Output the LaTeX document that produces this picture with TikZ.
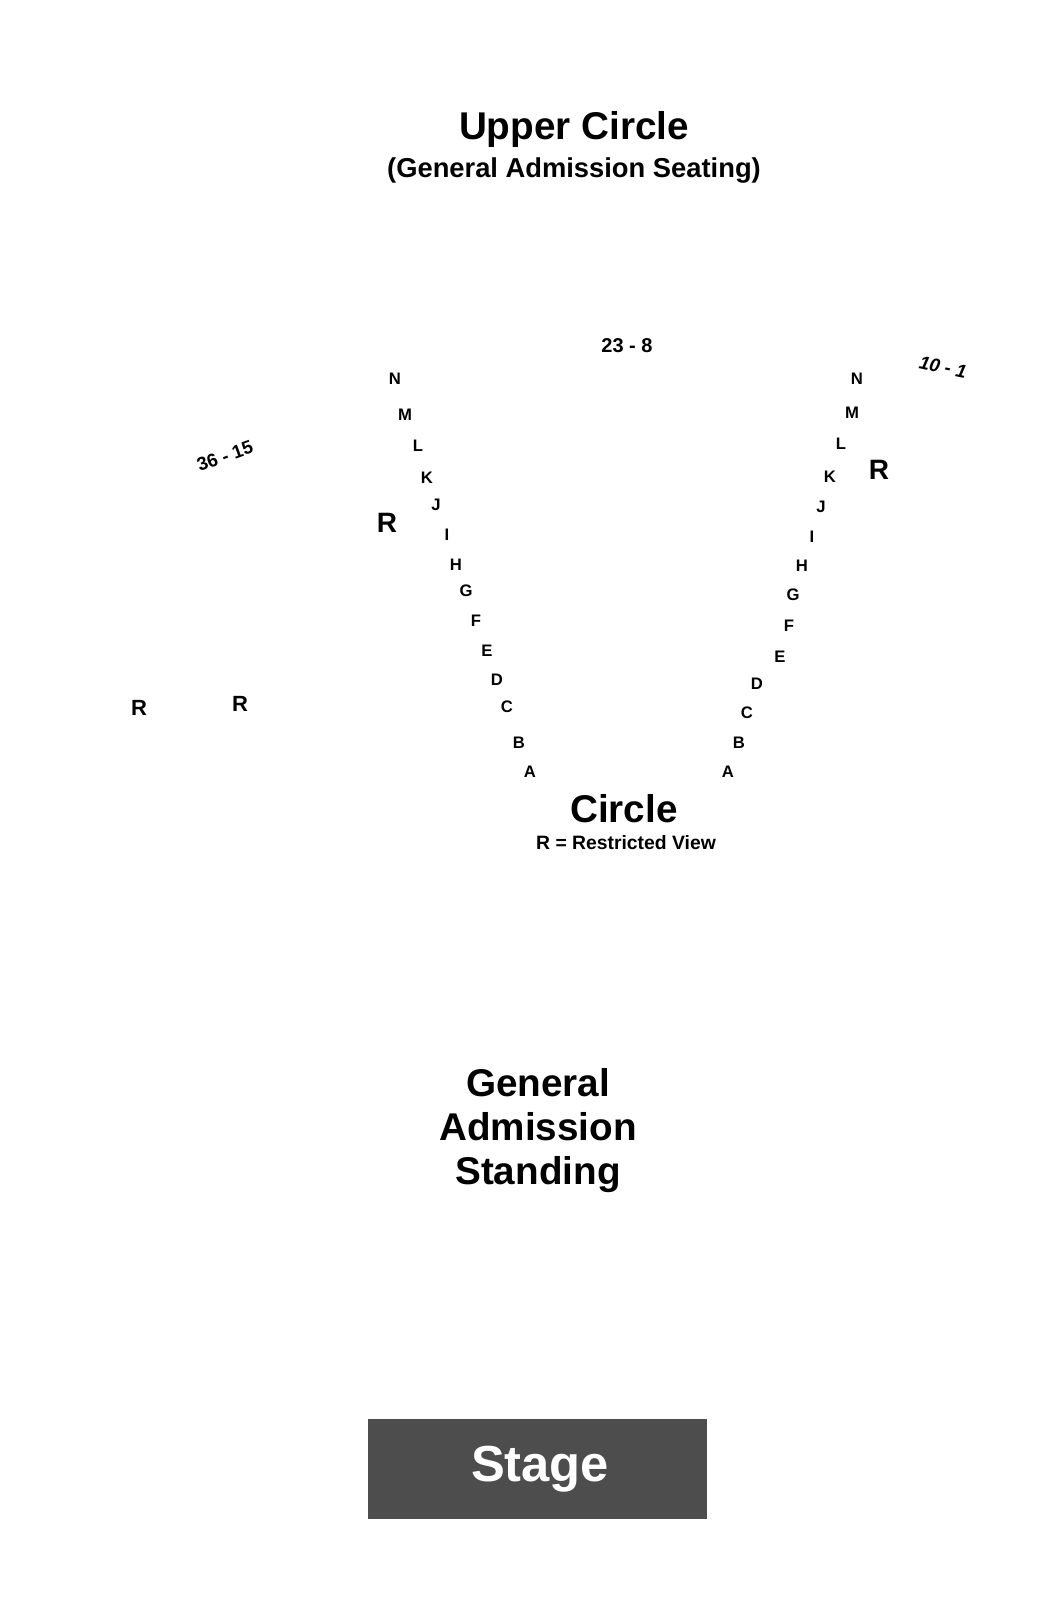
\documentclass[tikz,border=0pt]{standalone}
\usepackage{fontspec}
\setmainfont{Liberation Sans}
\begin{document}
\begin{tikzpicture}[x=0.75pt,y=-0.75pt,
 t/.style={font=\bfseries\fontsize{#1}{#1}\selectfont,inner sep=0pt,anchor=center}]
\useasboundingbox (0,0) rectangle (1050,1600);
\node[t=29] (uc) at (574,129) {Upper Circle};
\node[t=20.5] (ga) at (574,170) {(General Admission Seating)};
\node[t=15] (s1) at (627,346) {23 - 8};
\node[t=14,rotate=-12] (s2) at (943,367) {\itshape 10 - 1};
\node[t=14,rotate=20] (s3) at (225,456) {36 - 15};
\foreach \l/\x/\y [count=\i] in {N/395/379,M/405/415,L/418/446,K/427/478,J/436/505,I/447/535,H/456/565,G/466/591,F/476/621,E/487/651,D/497/680,C/507/707,B/519/743,A/530/772}
  \node[t=12.5] (l\i) at (\x,\y) {\l};
\foreach \l/\x/\y [count=\i] in {N/857/379,M/852/413,L/841/444,K/830/477,J/821/507,I/812/537,H/802/566,G/793/595,F/789/626,E/780/657,D/757/684,C/747/713,B/739/743,A/728/772}
  \node[t=12.5] (r\i) at (\x,\y) {\l};
\node[t=21] (ra) at (387,523) {R};
\node[t=21] (rb) at (879,470) {R};
\node[t=16.5] (rc) at (139,708) {R};
\node[t=16.5] (rd) at (240,704) {R};
\node[t=29] (ci) at (624,809) {Circle};
\node[t=14.5] (rv) at (626,843) {R = Restricted View};
\node[t=29,align=center,font=\bfseries\fontsize{29}{33}\selectfont] (gs) at (538,1131) {General\\Admission\\Standing};
\fill[fill={rgb,255:red,77;green,77;blue,77}] (368,1419) rectangle (707,1519);
\node[t=38,text=white] (st) at (540,1469) {Stage};
\end{tikzpicture}
\end{document}
